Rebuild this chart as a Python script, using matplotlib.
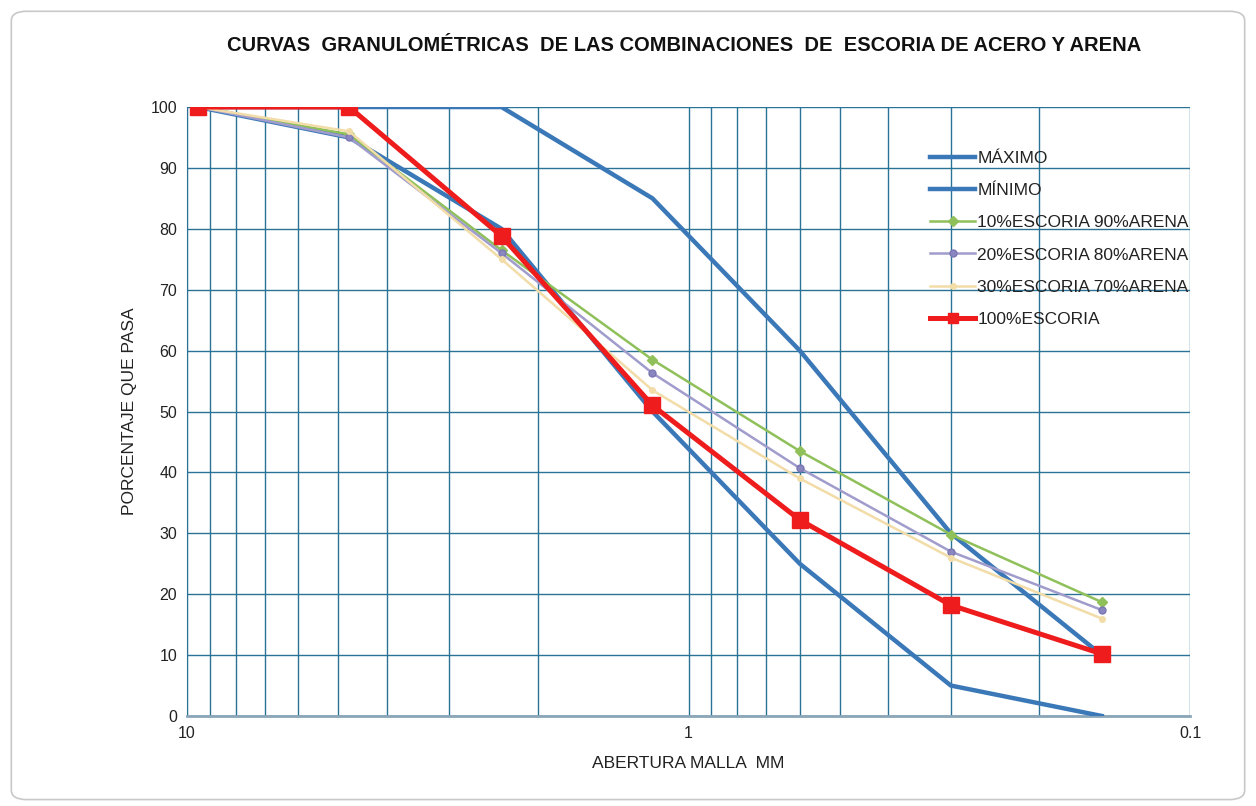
import matplotlib
matplotlib.use("Agg")
import matplotlib.pyplot as plt
from matplotlib.patches import FancyBboxPatch
from matplotlib.ticker import LogLocator, NullFormatter, FixedLocator, FixedFormatter

plt.rcParams['font.family'] = ['Liberation Sans', 'DejaVu Sans']

# Sieve openings (mm)
aberturas = [9.5, 4.75, 2.36, 1.18, 0.6, 0.3, 0.15]

# Percent passing
maximo = [100, 100, 100, 85, 60, 30, 10]
minimo = [100, 95, 80, 50, 25, 5, 0]
esc10 = [100, 95.5, 76.5, 58.5, 43.5, 29.8, 18.7]
esc20 = [100, 95, 76, 56.3, 40.7, 27, 17.4]
esc30 = [100, 96, 75, 53.5, 39, 26, 16]
esc100 = [100, 100, 78.8, 51, 32.2, 18.2, 10.2]

y_ticks = list(range(0, 101, 10))
x_ticks = [10, 1, 0.1]
x_tick_labels = ["10", "1", "0.1"]

titulo = "CURVAS  GRANULOMÉTRICAS  DE LAS COMBINACIONES  DE  ESCORIA DE ACERO Y ARENA"

fig = plt.figure(figsize=(12.56, 8.06), dpi=100)
fig.patch.set_facecolor("white")

# Rounded frame around the chart
frame = FancyBboxPatch((0.009, 0.008), 0.982, 0.978,
                       boxstyle="round,pad=0,rounding_size=0.012",
                       transform=fig.transFigure, facecolor="none",
                       edgecolor="#c8c8c8", linewidth=1.2, zorder=-5)
fig.patches.append(frame)

ax = fig.add_axes([0.1489, 0.1117, 0.7986, 0.7555])
ax.set_facecolor("white")

grid_col = "#2a7396"
blue = "#3b78b8"

ax.plot(aberturas, maximo, color=blue, lw=3.2, label="MÁXIMO", zorder=3)
ax.plot(aberturas, minimo, color=blue, lw=3.2, label="MÍNIMO", zorder=3)
ax.plot(aberturas, esc10, color="#8fc05a", lw=1.8, marker="D", ms=5,
        label="10%ESCORIA 90%ARENA", zorder=4)
ax.plot(aberturas, esc20, color="#a09ccc", lw=1.8, marker="o", ms=5,
        mfc="#8a86c0", mec="#7a76b4", label="20%ESCORIA 80%ARENA", zorder=4)
ax.plot(aberturas, esc30, color="#f2dca8", lw=1.8, marker="o", ms=4,
        label="30%ESCORIA 70%ARENA", zorder=4)
ax.plot(aberturas, esc100, color="#ee1c1c", lw=3.6, marker="s", ms=11,
        label="100%ESCORIA", zorder=5)

ax.set_xscale("log")
ax.set_xlim(10, 0.1)
ax.set_ylim(0, 100)

ax.xaxis.set_major_locator(FixedLocator(x_ticks))
ax.xaxis.set_major_formatter(FixedFormatter(x_tick_labels))
ax.xaxis.set_minor_locator(LogLocator(base=10, subs=range(2, 10)))
ax.xaxis.set_minor_formatter(NullFormatter())
ax.set_yticks(y_ticks)

ax.grid(which="both", axis="x", color=grid_col, lw=1.0, zorder=1)
ax.grid(which="major", axis="y", color=grid_col, lw=1.0, zorder=1)
ax.set_axisbelow(True)
ax.tick_params(which="both", length=0, labelsize=11.5, pad=7, colors="#222222")
for s in ["top", "right"]:
    ax.spines[s].set_visible(False)
ax.spines["left"].set_color(grid_col)
ax.spines["bottom"].set_color("#8aa6b8")
ax.spines["bottom"].set_linewidth(2)

ax.set_ylabel("PORCENTAJE QUE PASA", fontsize=12.5, labelpad=10, color="#222222")
ax.set_xlabel("ABERTURA MALLA  MM", fontsize=12.5, labelpad=11, color="#222222")

fig.text(0.545, 0.944, titulo, ha="center", va="center", fontsize=14.5,
         fontweight="bold", color="#111111")

leg = ax.legend(loc="upper left", bbox_to_anchor=(0.741, 0.928), frameon=False,
                fontsize=12.5, handlelength=2.6, labelspacing=0.98,
                handletextpad=0.1, borderaxespad=0, borderpad=0)
leg.legend_handles[5].set_markersize(7)
for t in leg.get_texts():
    t.set_color("#222222")

fig.savefig("out.png", dpi=100, facecolor="white")
